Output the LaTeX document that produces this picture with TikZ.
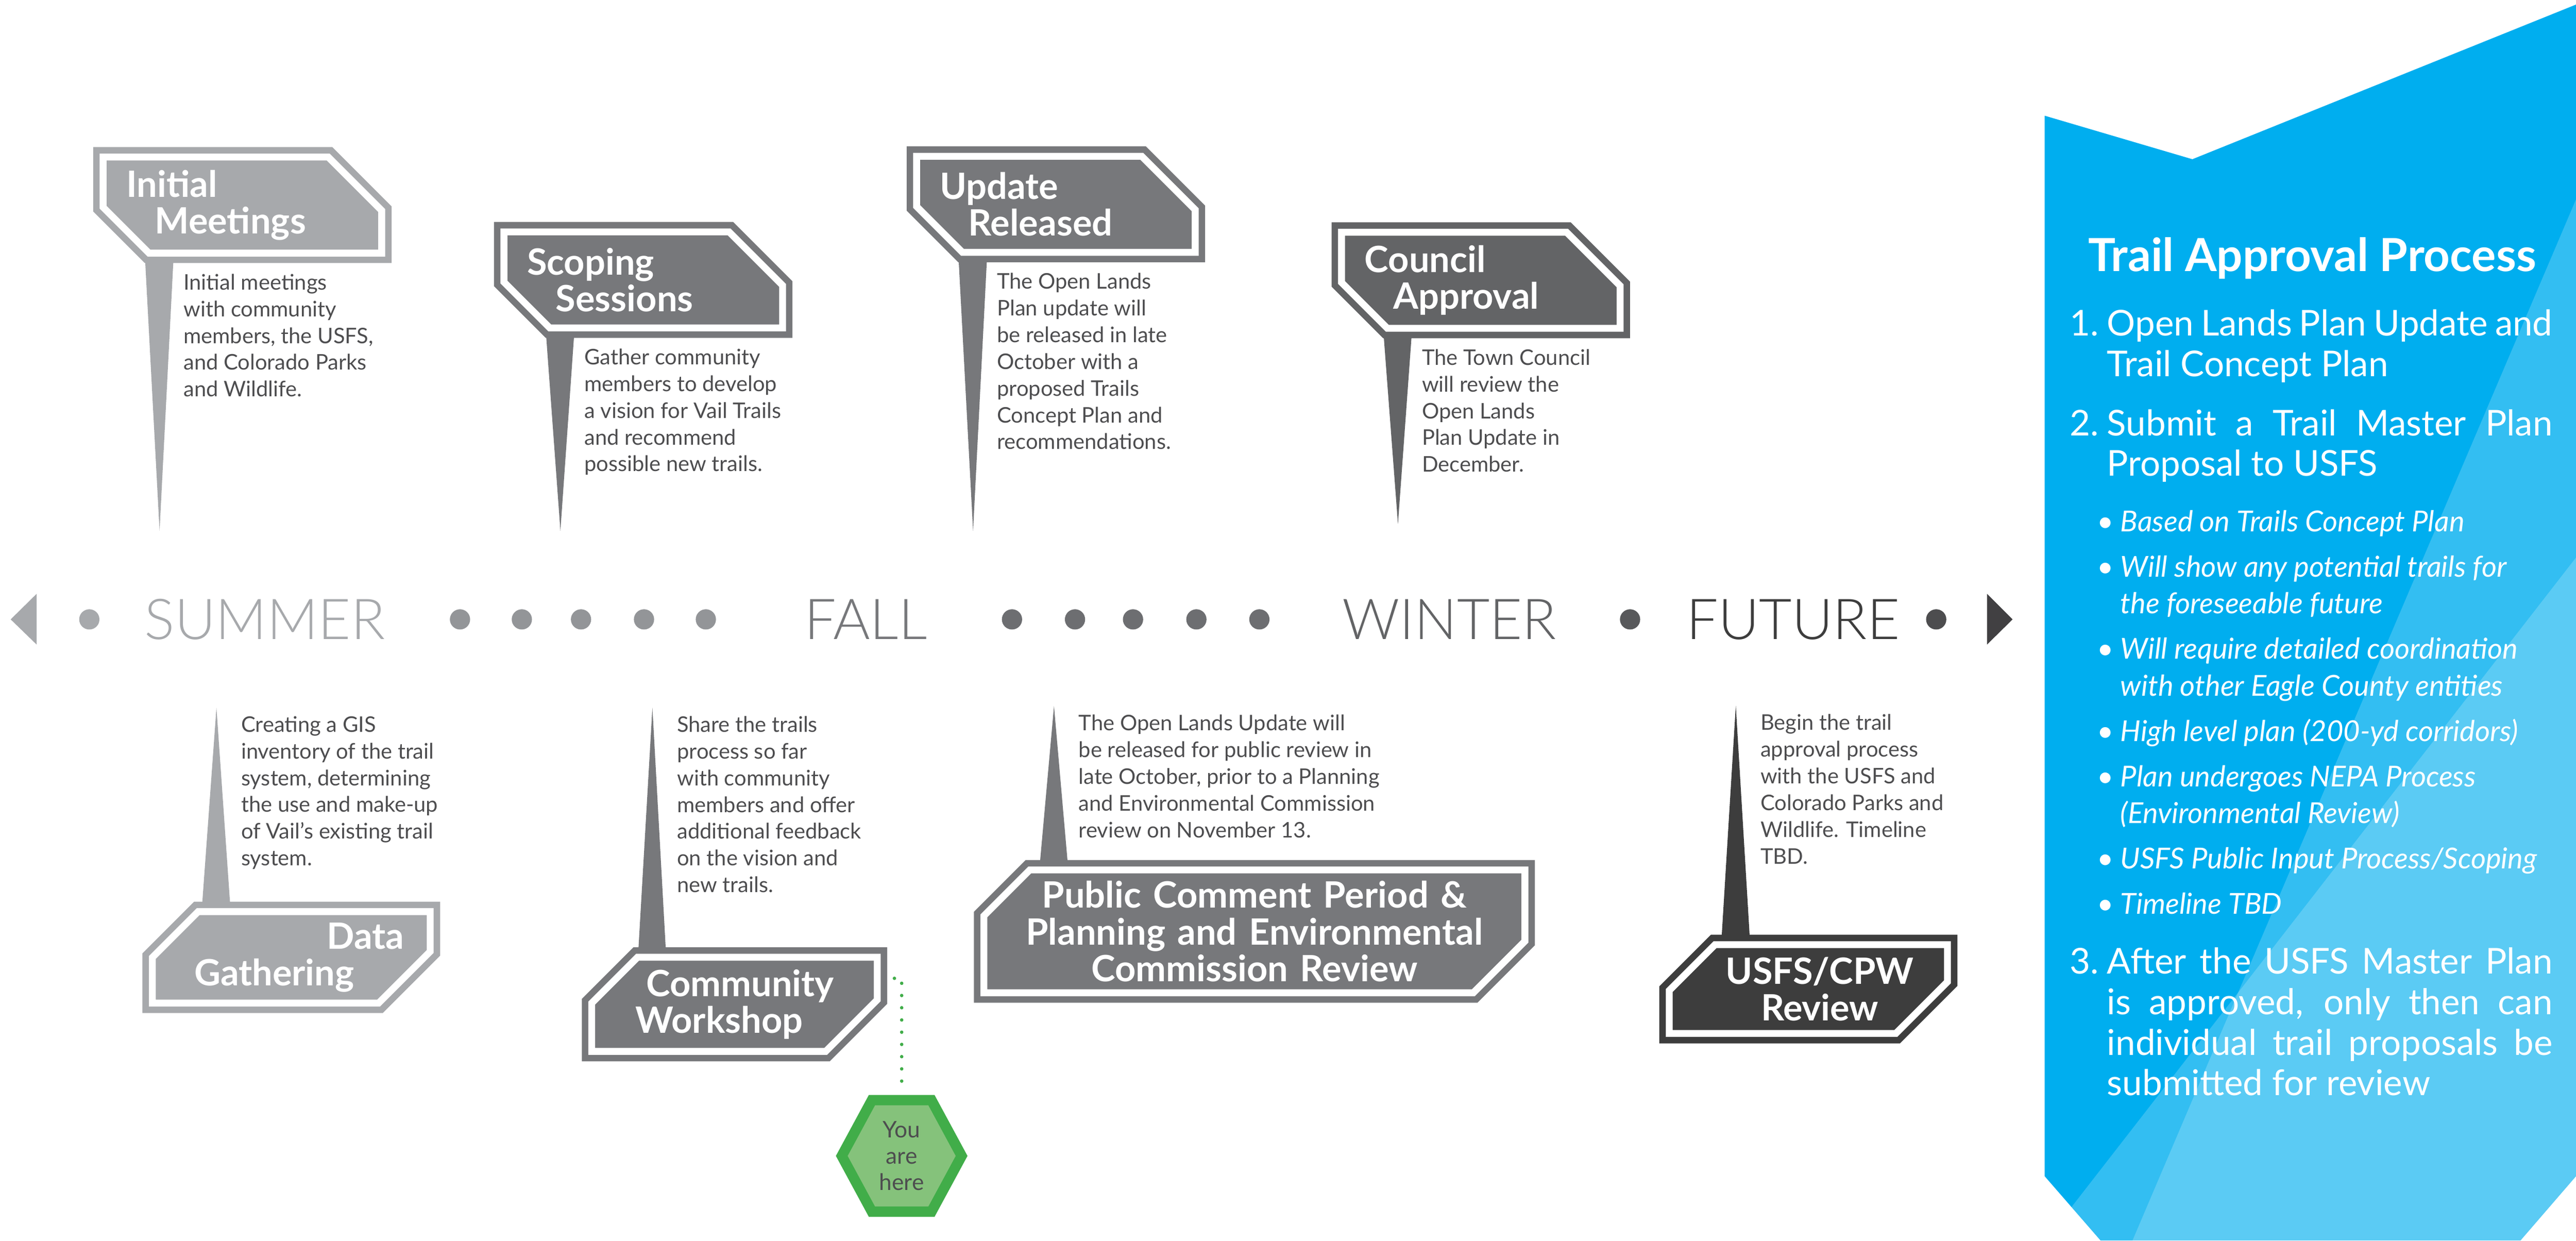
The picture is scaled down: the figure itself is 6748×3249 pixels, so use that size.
\documentclass[tikz,border=0pt]{standalone}
\usepackage{fontspec}
\setmainfont{Lato}
\newfontfamily\lightfont{Lato Light}
\usetikzlibrary{positioning}
\usetikzlibrary{backgrounds}
\usetikzlibrary{calc}

\definecolor{signA}{HTML}{A7A9AC}
\definecolor{signB}{HTML}{77787B}
\definecolor{signC}{HTML}{636466}
\definecolor{signD}{HTML}{3D3D3D}
\definecolor{dotB}{HTML}{939598}
\definecolor{dotC}{HTML}{6D6E71}
\definecolor{dotD}{HTML}{58595B}
\definecolor{dotE}{HTML}{4D4D4F}
\definecolor{arrowE}{HTML}{414042}
\definecolor{notegray}{HTML}{4D4D4F}
\definecolor{herefill}{HTML}{85C27B}
\definecolor{herestroke}{HTML}{41AD49}
\definecolor{panelblue}{HTML}{00AEEF}

\newcommand{\boardfont}{\bfseries\fontsize{27}{27.3}\selectfont}
\newcommand{\notefont}{\fontsize{16}{19.9}\selectfont}
\newcommand{\seasonfont}{\lightfont\fontsize{42}{42}\selectfont}
\newcommand{\herefont}{\fontsize{17}{19.6}\selectfont}
\newcommand{\paneltitle}{\bfseries\fontsize{34}{34}\selectfont}
\newcommand{\stepfont}{\fontsize{26.5}{30.2}\selectfont}
\newcommand{\bulletfont}{\itshape\fontsize{21.5}{27.3}\selectfont}

% sign boards, the white inner line runs on the path
\newcommand{\boardNE}[2]{%
  \path[boardline=#2] (#1.north west) -- ([xshift=-1.4cm]#1.north east)
    -- ([yshift=-1.4cm]#1.north east) -- (#1.south east)
    -- ([xshift=1.2cm]#1.south west) -- ([yshift=1.2cm]#1.south west) -- cycle;}
\newcommand{\boardNW}[2]{%
  \path[boardline=#2] ([xshift=1.2cm]#1.north west) -- (#1.north east)
    -- ([yshift=1.35cm]#1.south east) -- ([xshift=-1.35cm]#1.south east)
    -- (#1.south west) -- ([yshift=-1.2cm]#1.north west) -- cycle;}

\tikzset{
  boardline/.style={fill=#1, draw=#1, line width=0.17cm, double=white, double distance=0.18cm},
  signboard/.style={text=white, font=\boardfont, align=left, inner xsep=0.6cm, inner ysep=0pt,
    text width=#1, minimum height=2.5cm},
  note/.style={text=notegray, font=\notefont, align=left, inner sep=0pt, anchor=north west},
  season/.style={text=#1, font=\seasonfont, inner sep=0pt},
  tdot/.style={circle, fill=#1, minimum size=0.53cm, inner sep=0pt},
  herebox/.style={fill=herefill, draw=herestroke, line width=0.27cm},
  youline/.style={draw=herestroke, line width=0.09cm, line cap=round, dash pattern=on 0pt off 0.32cm},
  steps/.style={anchor=north west, inner sep=0pt, text width=12.6cm, align=justify, text=white, font=\stepfont}
}

\begin{document}
\begin{tikzpicture}[x=0.01cm, y=-0.01cm]
\useasboundingbox (0,0) rectangle (6748,3249);

% blue panel
\begin{scope}
  \clip (5356,303) -- (5743,417) -- (6748,12) -- (6748,3080) -- (6602,3249)
    -- (5503,3249) -- (5356,3080) -- cycle;
  \fill[panelblue] (5300,0) rectangle (6748,3249);
  \fill[white, opacity=0.2] (6748,522) -- (5586,3249) -- (6748,3249) -- cycle;
  \fill[white, opacity=0.2] (6748,1460) -- (5358,3249) -- (6748,3249) -- cycle;
\end{scope}

% timeline
\fill[signA] (28,1622) -- (96,1555) -- (96,1688) -- cycle;
\node[tdot=signA] (d1) at (234,1622) {};
\node[season=signA] (summer) at (694,1622) {SUMMER};
\foreach \x [count=\i from 2] in {1205,1367,1522,1687,1849}
  \node[tdot=dotB] (d\i) at (\x,1622) {};
\node[season=signB] (fall) at (2268,1622) {FALL};
\foreach \x [count=\i from 7] in {2651,2816,2968,3134,3299}
  \node[tdot=dotC] (d\i) at (\x,1622) {};
\node[season=signC] (winter) at (3797,1622) {WINTER};
\node[tdot=dotD] (d12) at (4270,1622) {};
\node[season=signD] (future) at (4697,1622) {FUTURE};
\node[tdot=dotE] (d13) at (5072,1622) {};
\fill[arrowE] (5205,1555) -- (5272,1622) -- (5205,1688) -- cycle;

% signs above the timeline
\node[signboard=6.08cm] (im) at (635,537) {Initial\\\hspace*{0.75cm}Meetings};
\node[signboard=6.08cm] (ss) at (1685,733) {Scoping\\\hspace*{0.75cm}Sessions};
\node[signboard=6.08cm] (ur) at (2766,535) {Update\\\hspace*{0.75cm}Released};
\node[signboard=6.08cm] (ca) at (3879,734) {Council\\\hspace*{0.75cm}Approval};

\node[note, below right=0.54cm and 2.1cm of im.south west] (imnote)
  {Initial meetings\\with community\\members, the USFS,\\and Colorado Parks\\and Wildlife.};
\node[note, below right=0.54cm and 2.1cm of ss.south west] (ssnote)
  {Gather community\\members to develop\\a vision for Vail Trails\\and recommend\\possible new trails.};
\node[note, below right=0.54cm and 2.1cm of ur.south west] (urnote)
  {The Open Lands\\Plan update will\\be released in late\\October with a\\proposed Trails\\Concept Plan and\\recommendations.};
\node[note, below right=0.54cm and 2.1cm of ca.south west] (canote)
  {The Town Council\\will review the\\Open Lands\\Plan Update in\\December.};

\coordinate (imtip) at (418,1390);
\coordinate (sstip) at (1468,1390);
\coordinate (urtip) at (2549,1390);
\coordinate (catip) at (3662,1372);

% signs below the timeline
\node[signboard=5.90cm, inner xsep=0.68cm, minimum height=2.38cm] (dg) at (763,2507)
  {\hspace*{\fill}Data\\\hspace*{0.41cm}Gathering};
\node[signboard=5.66cm, inner xsep=0.9cm, minimum height=2.45cm] (cw) at (1924,2630)
  {\hspace*{0.52cm}\mbox{Community}\\\hspace*{0.24cm}Workshop};
\node[signboard=12.95cm, align=center, minimum height=3.2cm] (pc) at (3286,2439)
  {Public Comment Period \&\\Planning and Environmental\\Commission Review};
\node[signboard=6.07cm, align=center, minimum height=2.31cm] (uc) at (4737,2590)
  {\hspace*{0.6cm}USFS/CPW\\\hspace*{0.6cm}Review};

\coordinate (dgtip) at (567,1853);
\coordinate (cwtip) at (1709,1853);
\coordinate (pctip) at (2761,1849);
\coordinate (uctip) at (4547,1848);

\node[note, below right=0.22cm and 0.64cm of dgtip] (dgnote)
  {Creating a GIS\\inventory of the trail\\system, determining\\the use and make-up\\of Vail’s existing trail\\system.};
\node[note, below right=0.22cm and 0.64cm of cwtip] (cwnote)
  {Share the trails\\process so far\\with community\\members and offer\\additional feedback\\on the vision and\\new trails.};
\node[note, below right=0.22cm and 0.64cm of pctip] (pcnote)
  {The Open Lands Update will\\be released for public review in\\late October, prior to a Planning\\and Environmental Commission\\review on November 13.};
\node[note, below right=0.22cm and 0.64cm of uctip] (ucnote)
  {Begin the trail\\approval process\\with the USFS and\\Colorado Parks and\\Wildlife. Timeline\\TBD.};

% you are here
\node[font=\herefont, text=notegray, align=center] (here) at (2362,3027) {You\\are\\here};
\draw[youline] ([xshift=0.45cm, yshift=0.68cm]cw.east) -| ([yshift=1.79cm]here.center);

% trail approval process
\node[font=\paneltitle, text=white, anchor=base] (tap) at (6057,711) {Trail Approval Process};
\node[steps] (steps) at (5425,810) {%
  \noindent\hangindent=0.94cm\hangafter=1\relax\makebox[0.94cm][r]{1.\hspace{0.22cm}}Open Lands Plan Update and\linebreak Trail Concept Plan\par
  \vspace{0.49cm}%
  \noindent\hangindent=0.94cm\hangafter=1\relax\makebox[0.94cm][r]{2.\hspace{0.22cm}}Submit a Trail Master Plan\linebreak Proposal to USFS\par
  \vspace{0.49cm}%
  {\bulletfont\raggedright
  \noindent\hangindent=1.29cm\hangafter=1\relax\hspace*{0.68cm}\makebox[0.61cm][l]{\textbullet}Based on Trails Concept Plan\par
  \vspace{0.23cm}%
  \noindent\hangindent=1.29cm\hangafter=1\relax\hspace*{0.68cm}\makebox[0.61cm][l]{\textbullet}Will show any potential trails for\newline the foreseeable future\par
  \vspace{0.23cm}%
  \noindent\hangindent=1.29cm\hangafter=1\relax\hspace*{0.68cm}\makebox[0.61cm][l]{\textbullet}Will require detailed coordination\newline with other Eagle County entities\par
  \vspace{0.23cm}%
  \noindent\hangindent=1.29cm\hangafter=1\relax\hspace*{0.68cm}\makebox[0.61cm][l]{\textbullet}High level plan (200-yd corridors)\par
  \vspace{0.23cm}%
  \noindent\hangindent=1.29cm\hangafter=1\relax\hspace*{0.68cm}\makebox[0.61cm][l]{\textbullet}Plan undergoes NEPA Process\newline (Environmental Review)\par
  \vspace{0.23cm}%
  \noindent\hangindent=1.29cm\hangafter=1\relax\hspace*{0.68cm}\makebox[0.61cm][l]{\textbullet}USFS Public Input Process/Scoping\par
  \vspace{0.23cm}%
  \noindent\hangindent=1.29cm\hangafter=1\relax\hspace*{0.68cm}\makebox[0.61cm][l]{\textbullet}Timeline TBD\par}
  \vspace{0.50cm}%
  \noindent\hangindent=0.94cm\hangafter=1\relax\makebox[0.94cm][r]{3.\hspace{0.22cm}}After the USFS Master Plan\linebreak is approved, only then can\linebreak individual trail proposals be\linebreak submitted for review\par};

\begin{scope}[on background layer]
  % spikes
  \fill[signA] ([xshift=1.09cm]im.south west) -- ([xshift=1.85cm]im.south west) -- (imtip) -- cycle;
  \fill[signB] ([xshift=1.09cm]ss.south west) -- ([xshift=1.85cm]ss.south west) -- (sstip) -- cycle;
  \fill[signB] ([xshift=1.09cm]ur.south west) -- ([xshift=1.85cm]ur.south west) -- (urtip) -- cycle;
  \fill[signC] ([xshift=1.09cm]ca.south west) -- ([xshift=1.85cm]ca.south west) -- (catip) -- cycle;
  \fill[signA] ([xshift=1.29cm]dg.north west) -- ([xshift=2.05cm]dg.north west) -- (dgtip) -- cycle;
  \fill[signB] ([xshift=1.21cm]cw.north west) -- ([xshift=1.95cm]cw.north west) -- (cwtip) -- cycle;
  \fill[signB] ([xshift=1.45cm]pc.north west) -- ([xshift=2.21cm]pc.north west) -- (pctip) -- cycle;
  \fill[signD] ([xshift=1.36cm]uc.north west) -- ([xshift=2.12cm]uc.north west) -- (uctip) -- cycle;
  % boards
  \boardNE{im}{signA}
  \boardNE{ss}{signB}
  \boardNE{ur}{signB}
  \boardNE{ca}{signC}
  \boardNW{dg}{signA}
  \boardNW{cw}{signB}
  \boardNW{pc}{signB}
  \boardNW{uc}{signD}
  % hexagon
  \filldraw[herebox] ($(here)+(-78,-146)$) -- ($(here)+(78,-146)$) -- ($(here)+(157,0)$)
    -- ($(here)+(78,146)$) -- ($(here)+(-78,146)$) -- ($(here)+(-157,0)$) -- cycle;
\end{scope}

\end{tikzpicture}
\end{document}
